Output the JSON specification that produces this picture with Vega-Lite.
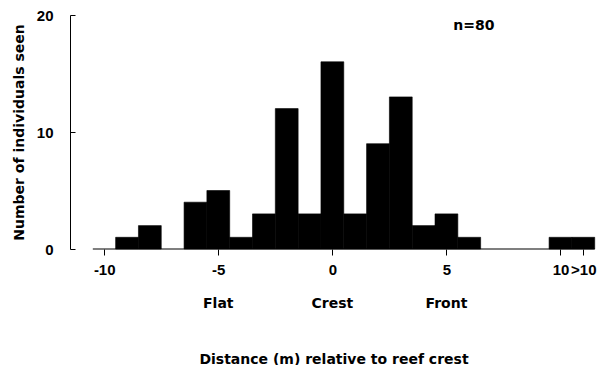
{
  "$schema": "https://vega.github.io/schema/vega-lite/v6.json",
  "autosize": "none",
  "width": 527,
  "height": 234,
  "padding": {"left": 70, "top": 15, "right": 4, "bottom": 116},
  "background": "white",
  "config": {
    "view": {"stroke": null},
    "font": "DejaVu Sans",
    "axis": {"labelFont": "Liberation Sans", "titleFont": "DejaVu Sans", "labelFontWeight": "bold", "titleFontWeight": "bold", "labelColor": "black", "titleColor": "black", "domainColor": "black", "tickColor": "black", "labelFontSize": 15, "titleFontSize": 14, "grid": false, "labelOverlap": false}
  },
  "datasets": {
    "bins": [
      {"start": -9.5, "end": -8.5, "count": 1},
      {"start": -8.5, "end": -7.5, "count": 2},
      {"start": -6.5, "end": -5.5, "count": 4},
      {"start": -5.5, "end": -4.5, "count": 5},
      {"start": -4.5, "end": -3.5, "count": 1},
      {"start": -3.5, "end": -2.5, "count": 3},
      {"start": -2.5, "end": -1.5, "count": 12},
      {"start": -1.5, "end": -0.5, "count": 3},
      {"start": -0.5, "end": 0.5, "count": 16},
      {"start": 0.5, "end": 1.5, "count": 3},
      {"start": 1.5, "end": 2.5, "count": 9},
      {"start": 2.5, "end": 3.5, "count": 13},
      {"start": 3.5, "end": 4.5, "count": 2},
      {"start": 4.5, "end": 5.5, "count": 3},
      {"start": 5.5, "end": 6.5, "count": 1},
      {"start": 9.5, "end": 10.5, "count": 1},
      {"start": 10.5, "end": 11.5, "count": 1}
    ],
    "zones": [
      {"x": -5, "y": -4.7, "label": "Flat"},
      {"x": 0, "y": -4.7, "label": "Crest"},
      {"x": 5, "y": -4.7, "label": "Front"}
    ],
    "note": [{"x": 6.2, "y": 19.1, "label": "n=80"}],
    "base": [{"x": -10.5, "x2": 11.5, "y": 0}]
  },
  "layer": [
    {
      "data": {"name": "base"},
      "mark": {"type": "rule", "color": "black", "strokeWidth": 1.2},
      "encoding": {
        "x": {"field": "x", "type": "quantitative", "scale": {"domain": [-11.5, 11.6], "nice": false, "zero": false},
          "axis": {"title": "Distance (m) relative to reef crest", "domain": false, "values": [-10, -5, 0, 5, 10, 11], "tickSize": 6, "labelPadding": 7, "titleY": 103, "labelExpr": "datum.value == 11 ? '>10' : datum.value < 0 ? '-' + abs(datum.value) : '' + datum.value", "labelFlush": false, "labelOverlap": false}},
        "x2": {"field": "x2"},
        "y": {"field": "y", "type": "quantitative", "scale": {"domain": [0, 20], "nice": false},
          "axis": {"title": "Number of individuals seen", "values": [0, 10, 20], "tickSize": -5, "labelPadding": 22, "titlePadding": 10}}
      }
    },
    {
      "data": {"name": "bins"},
      "mark": {"type": "bar", "color": "black", "stroke": "black", "strokeWidth": 0.6},
      "encoding": {
        "x": {"field": "start", "type": "quantitative"},
        "x2": {"field": "end"},
        "y": {"field": "count", "type": "quantitative"},
        "y2": {"datum": 0}
      }
    },
    {
      "data": {"name": "zones"},
      "mark": {"type": "text", "font": "DejaVu Sans", "fontWeight": "bold", "fontSize": 14, "color": "black"},
      "encoding": {
        "x": {"field": "x", "type": "quantitative"},
        "y": {"field": "y", "type": "quantitative"},
        "text": {"field": "label"}
      }
    },
    {
      "data": {"name": "note"},
      "mark": {"type": "text", "font": "DejaVu Sans", "fontWeight": "bold", "fontSize": 14, "color": "black"},
      "encoding": {
        "x": {"field": "x", "type": "quantitative"},
        "y": {"field": "y", "type": "quantitative"},
        "text": {"field": "label"}
      }
    }
  ]
}
